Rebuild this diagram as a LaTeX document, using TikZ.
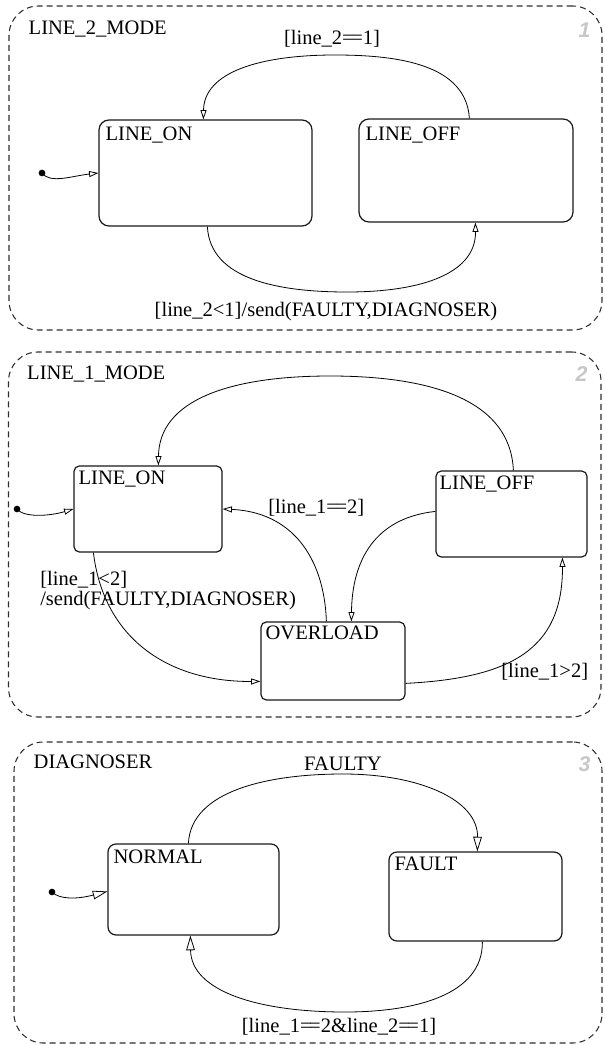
\documentclass[tikz,border=0pt]{standalone}
\usepackage{fontspec}
\setmainfont{Liberation Serif}
\setsansfont{Liberation Sans}
\usetikzlibrary{arrows.meta,calc,fit}
\newcommand{\eqeq}{=\kern-0.12em=}

\begin{document}
\begin{tikzpicture}[x=0.75pt,y=-0.75pt,
  every node/.style={font=\fontsize{15.4}{18}\selectfont, inner sep=0pt},
  frame/.style={draw=black!82, line width=0.8pt, dash pattern=on 4.5pt off 3pt, rounded corners=22pt},
  statebox/.style={draw=black!90, line width=0.9pt, inner sep=0pt},
  initdot/.style={circle, fill=black, minimum size=5pt, inner sep=0pt},
  trans/.style={draw, line width=0.6pt, -{Triangle[open,length=7pt,width=4.5pt]}},
  transbig/.style={draw, line width=0.6pt, -{Triangle[open,length=11pt,width=6.5pt]}},
  txt/.style={anchor=base west},
  ctxt/.style={anchor=base},
  numlab/.style={font=\sffamily\bfseries\itshape\fontsize{16}{18}\selectfont, text=black!22, anchor=base}
]
\useasboundingbox (0,0) rectangle (604,1045);

% ---------------- LINE_2_MODE ----------------
\node[frame, fit={(9,6) (602,330)}] (p1) {};
\node[txt] (p1name) at ($(p1.north west)+(20,29)$) {LINE\_2\_MODE};
\node[numlab] (p1num) at ($(p1.north east)+(-18,32)$) {1};

\node[statebox, rounded corners=7.5pt, fit={(99,120) (312,226)}] (on1) {};
\node[txt] at ($(on1.north west)+(7,21)$) {LINE\_ON};
\node[statebox, rounded corners=7.5pt, fit={(359,119) (573,222)}] (off1) {};
\node[txt] at ($(off1.north west)+(7,22)$) {LINE\_OFF};
\node[initdot] (init1) at (42,173) {};

\draw[trans] (init1.center) .. controls (50,184) and (72,176) .. (on1.west);
\draw[trans] ($(off1.north west)+(111,0)$) .. controls (466,65) and (400,55) .. (335,55)
  .. controls (260,55) and (204,72) .. ($(on1.north west)+(105,0)$);
\node[ctxt] at (332,45) {[line\_2\eqeq1]};
\draw[trans] ($(on1.south west)+(109,0)$) .. controls (210,280) and (280,292) .. (347,292)
  .. controls (425,292) and (476,272) .. ($(off1.south west)+(117,0)$);
\node[ctxt] at (326,316) {[line\_2<1]/send(FAULTY,DIAGNOSER)};

% ---------------- LINE_1_MODE ----------------
\node[frame, fit={(8.5,352) (601,717)}] (p2) {};
\node[txt] (p2name) at ($(p2.north west)+(19,28)$) {LINE\_1\_MODE};
\node[numlab] (p2num) at ($(p2.north east)+(-20,30)$) {2};

\node[statebox, rounded corners=4pt, fit={(74,466) (222,552)}] (on2) {};
\node[txt] at ($(on2.north west)+(5,19)$) {LINE\_ON};
\node[statebox, rounded corners=4pt, fit={(436,471) (587,557)}] (off2) {};
\node[txt] at ($(off2.north west)+(4,19)$) {LINE\_OFF};
\node[statebox, rounded corners=4pt, fit={(261,622) (405,700)}] (ov2) {};
\node[txt] at ($(ov2.north west)+(5,18)$) {OVERLOAD};
\node[initdot] (init2) at (17,509) {};

\draw[trans] (init2.center) .. controls (24,518) and (50,516) .. (on2.west);
\draw[trans] ($(off2.north west)+(78,0)$) .. controls (510,395) and (420,376) .. (330,376)
  .. controls (230,376) and (159,400) .. ($(on2.north west)+(85,0)$);
\draw[trans] ($(ov2.north west)+(66,0)$) .. controls (324,555) and (290,512) .. (on2.east);
\node[txt] at (268,513) {[line\_1\eqeq2]};
\draw[trans] ($(off2.north west)+(0,41)$) .. controls (375,518) and (352,560) .. ($(ov2.north west)+(91,0)$);
\draw[trans] ($(on2.south west)+(20,0)$) .. controls (104,640) and (170,682) .. ($(ov2.north west)+(0,60)$);
\node[txt] at (40,585) {[line\_1<2]};
\node[txt] at (40,605) {/send(FAULTY,DIAGNOSER)};
\draw[trans] ($(ov2.north east)+(0,62)$) .. controls (510,678) and (563,650) .. ($(off2.south west)+(127,0)$);
\node[txt] at (501,677) {[line\_1>2]};

% ---------------- DIAGNOSER ----------------
\node[frame, fit={(14,742) (602,1043)}] (p3) {};
\node[txt] (p3name) at ($(p3.north west)+(20,27)$) {DIAGNOSER};
\node[numlab] (p3num) at ($(p3.north east)+(-18,30)$) {3};

\node[statebox, rounded corners=6pt, fit={(108,844) (279,935)}] (norm3) {};
\node[txt] at ($(norm3.north west)+(6,20)$) {NORMAL};
\node[statebox, rounded corners=6pt, fit={(389,852) (562,941)}] (fault3) {};
\node[txt] at ($(fault3.north west)+(6,19)$) {FAULT};
\node[initdot] (init3) at (52,892) {};

\draw[transbig] (init3.center) .. controls (60,900) and (78,899) .. ($(norm3.north west)+(0,48)$);
\draw[transbig] ($(norm3.north west)+(81,0)$) .. controls (191,790) and (270,774) .. (343,774)
  .. controls (420,774) and (478,800) .. ($(fault3.north west)+(89,0)$);
\node[ctxt] at (343,770) {FAULTY};
\draw[transbig] ($(fault3.south west)+(94,0)$) .. controls (483,995) and (415,1012) .. (345,1012)
  .. controls (255,1012) and (191,990) .. ($(norm3.south west)+(83,0)$);
\node[ctxt] at (339,1032) {[line\_1\eqeq2\&line\_2\eqeq1]};

\end{tikzpicture}
\end{document}
